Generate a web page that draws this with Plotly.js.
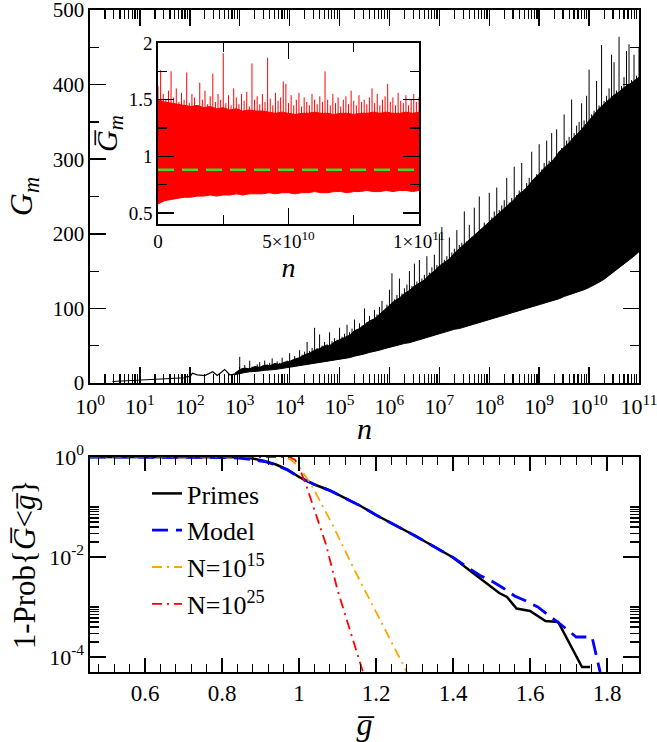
<!DOCTYPE html>
<html><head><meta charset="utf-8">
<script src="https://cdn.plot.ly/plotly-3.0.1.min.js"></script>
<style>html,body{margin:0;padding:0;background:#fff}</style>
</head><body><div id="chart" style="width:657px;height:742px"></div>
<script>
// ---------- Top panel: G_m vs n (log10 n exponents) ----------
const sparseLogN = [0.45, 0.7, 1.0, 1.3, 1.6, 1.9, 1.95, 2.0, 2.05, 2.15, 2.3, 2.46, 2.55, 2.7, 2.8, 2.9];
const sparseG    = [2, 3, 4, 5, 6, 7, 9, 8, 13, 11, 10, 15, 10, 18, 11, 12];

const bandLogN = [2.9,3.0,3.1,3.2,3.3,3.4,3.5,3.6,3.7,3.8,3.9,4.0,4.1,4.2,4.3,4.4,4.5,4.6,4.7,4.8,4.9,5.0,5.1,5.2,5.3,5.4,5.5,5.6,5.7,5.8,5.9,6.0,6.1,6.2,6.3,6.4,6.5,6.6,6.7,6.8,6.9,7.0,7.1,7.2,7.3,7.4,7.5,7.6,7.7,7.8,7.9,8.0,8.1,8.2,8.3,8.4,8.5,8.6,8.7,8.8,8.9,9.0,9.1,9.2,9.3,9.4,9.5,9.6,9.7,9.8,9.9,10.0,10.1,10.2,10.3,10.4,10.5,10.6,10.7,10.8,10.9,11.0];
const bandLow  = [11,13,14,15,15,16,17,17,18,19,20,21,22,23,24,25,26,27,28,29,30,31,33,34,36,37,39,41,42,44,46,48,50,51,53,54,56,58,60,62,64,66,68,70,72,73,75,77,79,81,83,85,87,89,91,93,95,97,99,101,103,105,107,109,111,113,116,118,120,123,125,128,131,135,139,144,149,154,159,164,170,176];
const bandHigh = [13,18,20,19,22,21,24,23,26,25,28,29,32,34,38,40,44,46,50,50,55,58,62,64,70,73,78,83,86,92,97,104,110,114,120,124,130,134,138,145,150,157,162,166,174,180,185,192,197,204,210,216,222,227,234,240,246,254,258,266,274,280,288,294,300,310,316,322,330,336,344,352,360,368,374,380,386,390,396,400,405,410];
// needle maxima every 0.05 decade from 10^3 to 10^11
const needleLogN0 = 3.0, needleStep = 0.05;
const needleG = [
 35,20,24,19,30,22,21,25,28,23,
 30,25,27,33,26,29,27,34,28,30,
 40,31,36,33,44,38,42,55,43,47,
 74,47,65,50,55,52,68,56,60,58,
 74,62,66,78,68,73,85,72,80,77,
 100,82,90,85,98,92,102,110,96,105,
 125,147,112,118,140,120,127,132,150,130,
 160,136,165,140,145,170,148,155,172,158,
 200,209,165,170,195,175,180,205,185,188,
 230,190,212,196,235,200,250,205,215,212,
 255,222,230,262,232,238,245,275,242,248,
 290,252,258,295,260,268,275,310,272,280,
 320,286,295,325,298,335,302,340,310,315,
 360,325,330,380,335,345,350,375,352,385,
 420,360,365,405,372,453,378,385,395,440,
 430,392,464,398,410,445,454,406,440,412,
 449];

// ---------- Inset: normalised G_m vs n (linear) ----------
const insetN = [0,2.5e9,5e9,7.5e9,1e10,1.25e10,1.5e10,1.75e10,2e10,2.25e10,2.5e10,2.75e10,3e10,3.25e10,3.5e10,3.75e10,4e10,4.25e10,4.5e10,4.75e10,5e10,5.25e10,5.5e10,5.75e10,6e10,6.25e10,6.5e10,6.75e10,7e10,7.25e10,7.5e10,7.75e10,8e10,8.25e10,8.5e10,8.75e10,9e10,9.25e10,9.5e10,9.75e10,1e11];
const insetLow  = [0.58,0.61,0.62,0.63,0.64,0.64,0.65,0.65,0.66,0.65,0.66,0.66,0.67,0.66,0.67,0.67,0.67,0.68,0.67,0.68,0.68,0.67,0.68,0.68,0.69,0.68,0.68,0.69,0.69,0.68,0.69,0.69,0.70,0.69,0.69,0.70,0.69,0.70,0.70,0.69,0.70];
const insetHigh = [1.50,1.48,1.47,1.46,1.45,1.44,1.45,1.43,1.44,1.42,1.43,1.41,1.42,1.40,1.41,1.40,1.40,1.39,1.38,1.39,1.38,1.37,1.38,1.38,1.39,1.38,1.38,1.37,1.38,1.38,1.37,1.38,1.38,1.39,1.38,1.39,1.38,1.38,1.39,1.38,1.39];
// needle maxima every 1e9
const insetNeedleStep = 1e9;
const insetNeedle = [
 1.62,1.76,1.55,1.50,1.58,1.75,1.52,1.60,1.48,1.56,
 1.50,1.74,1.47,1.55,1.52,1.45,1.65,1.50,1.58,1.46,
 1.53,1.73,1.48,1.55,1.50,1.91,1.47,1.54,1.45,1.60,
 1.52,1.46,1.55,1.49,1.57,1.44,1.82,1.50,1.53,1.46,
 1.55,1.48,1.87,1.51,1.45,1.56,1.49,1.52,1.66,1.64,
 1.47,1.54,1.45,1.50,1.56,1.44,1.52,1.48,1.45,1.55,
 1.50,1.46,1.53,1.48,1.75,1.50,1.45,1.55,1.47,1.52,
 1.44,1.50,1.53,1.46,1.58,1.49,1.45,1.54,1.48,1.50,
 1.46,1.52,1.60,1.47,1.55,1.45,1.50,1.53,1.64,1.48,
 1.52,1.45,1.56,1.49,1.47,1.54,1.45,1.50,1.55,1.48,
 1.52];
const insetMean = 0.883;

// ---------- Bottom panel: 1-Prob{G<g} ----------
const primesG    = [0.457,0.80,0.85,0.88,0.91,0.94,0.97,1.00,1.04,1.08,1.12,1.16,1.20,1.25,1.30,1.35,1.40,1.44,1.47,1.50,1.52,1.54,1.565,1.60,1.625,1.64,1.673,1.735,1.756];
const primesLogP = [0,0,-0.005,-0.03,-0.08,-0.15,-0.25,-0.40,-0.55,-0.67,-0.82,-0.98,-1.16,-1.36,-1.57,-1.79,-2.01,-2.25,-2.42,-2.60,-2.72,-2.80,-3.03,-3.08,-3.20,-3.28,-3.30,-4.20,-4.20];
const modelG     = [0.457,0.78,0.82,0.85,0.88,0.91,0.94,0.97,1.00,1.04,1.08,1.12,1.16,1.20,1.25,1.30,1.35,1.40,1.44,1.47,1.50,1.53,1.56,1.59,1.62,1.65,1.68,1.72,1.761,1.782];
const modelLogP  = [0,0,-0.01,-0.025,-0.05,-0.09,-0.16,-0.26,-0.40,-0.55,-0.67,-0.82,-0.98,-1.16,-1.36,-1.57,-1.79,-2.01,-2.22,-2.37,-2.48,-2.62,-2.78,-2.88,-3.00,-3.17,-3.35,-3.60,-3.60,-4.30];
const n15G       = [0.457,0.96,0.98,1.00,1.03,1.06,1.09,1.14,1.20,1.28];
const n15LogP    = [0,0,-0.06,-0.20,-0.53,-0.95,-1.40,-2.20,-3.10,-4.30];
const n25G       = [0.457,0.975,0.99,1.00,1.02,1.04,1.07,1.10,1.14,1.166];
const n25LogP    = [0,0,-0.06,-0.20,-0.60,-1.06,-1.75,-2.66,-3.66,-4.30];
const seriesNames = ['Primes','Model','N=10<sup>15</sup>','N=10<sup>25</sup>'];

// ---------- build ----------
const pow10 = v => Math.pow(10, v);
const serif = '"Liberation Serif", "Times New Roman", serif';
const traces = [];
const skip = {showlegend:false, hoverinfo:'skip'};

traces.push(Object.assign({x: sparseLogN.map(pow10), y: sparseG, mode:'lines', line:{color:'#000', width:1.2}, xaxis:'x', yaxis:'y'}, skip));
traces.push(Object.assign({x: bandLogN.map(pow10), y: bandLow, mode:'lines', line:{color:'#000', width:1}, xaxis:'x', yaxis:'y'}, skip));
traces.push(Object.assign({x: bandLogN.map(pow10), y: bandHigh, mode:'lines', fill:'tonexty', fillcolor:'#000', line:{color:'#000', width:1}, xaxis:'x', yaxis:'y'}, skip));
(function(){
  const sx = [], sy = [];
  needleG.forEach((g,i)=>{
    const e = needleLogN0 + i*needleStep;
    let j = 0; while (j < bandLogN.length-1 && bandLogN[j+1] <= e + 1e-9) j++;
    const base = bandLow[Math.min(j+1, bandLow.length-1)];
    sx.push(pow10(e), pow10(e), null); sy.push(base, g, null);
  });
  traces.push(Object.assign({x: sx, y: sy, mode:'lines', line:{color:'#000', width:1}, xaxis:'x', yaxis:'y'}, skip));
})();

traces.push(Object.assign({x: insetN, y: insetLow, mode:'lines', line:{color:'#ff0000', width:1}, xaxis:'x3', yaxis:'y3'}, skip));
traces.push(Object.assign({x: insetN, y: insetHigh, mode:'lines', fill:'tonexty', fillcolor:'#ff0000', line:{color:'#ff0000', width:1}, xaxis:'x3', yaxis:'y3'}, skip));
(function(){
  const sx = [], sy = [];
  insetNeedle.forEach((g,i)=>{ const n = i*insetNeedleStep; sx.push(n, n, null); sy.push(insetMean, g, null); });
  traces.push(Object.assign({x: sx, y: sy, mode:'lines', line:{color:'#ff0000', width:1}, xaxis:'x3', yaxis:'y3'}, skip));
})();
traces.push(Object.assign({x: [insetN[0], insetN[insetN.length-1]], y: [insetMean, insetMean], mode:'lines', line:{color:'#3cdc1e', width:2.5, dash:'16px,8px'}, xaxis:'x3', yaxis:'y3'}, skip));

traces.push({x: primesG, y: primesLogP.map(pow10), name:seriesNames[0], mode:'lines', line:{color:'#000', width:2.5}, xaxis:'x2', yaxis:'y2'});
traces.push({x: modelG, y: modelLogP.map(pow10), name:seriesNames[1], mode:'lines', line:{color:'#0000ff', width:2.8, dash:'16px,8px'}, xaxis:'x2', yaxis:'y2'});
traces.push({x: n15G, y: n15LogP.map(pow10), name:seriesNames[2], mode:'lines', line:{color:'#ffa500', width:1.8, dash:'10px,5px,2px,5px'}, xaxis:'x2', yaxis:'y2'});
traces.push({x: n25G, y: n25LogP.map(pow10), name:seriesNames[3], mode:'lines', line:{color:'#ff0000', width:1.8, dash:'10px,5px,2px,5px'}, xaxis:'x2', yaxis:'y2'});

// tick helpers
const decades = [], decText = [], decMinor = [];
for (let k=0;k<=11;k++){ decades.push(Math.pow(10,k)); decText.push('10<sup>'+k+'</sup>'); if (k<11) for (let m=2;m<=9;m++) decMinor.push(m*Math.pow(10,k)); }
const logYMinor = [];
[-4,-2].forEach(k=>{ for (let m=2;m<=10;m++) logYMinor.push(m*Math.pow(10,k)); });
const gMinor = []; for (let v=0.48; v<1.88; v+=0.04) gMinor.push(+v.toFixed(2));

const W = 657, H = 742;
const px = (a,b)=>[a/W, b/W];
const py = (top,bot)=>[1-bot/H, 1-top/H];
const minorBase = {tickmode:'array', ticks:'inside', tickcolor:'#000', tickwidth:1.2};
const tf = s => ({family:serif, size:s, color:'#000'});
const axBase = {showline:true, linecolor:'#000', linewidth:1.6, mirror:'allticks', ticks:'inside', tickcolor:'#000', tickwidth:1.5, showgrid:false, zeroline:false, ticklabeloverflow:'allow', tickfont:tf(21)};

const layout = {
  width: W, height: H, margin:{l:0,r:0,t:0,b:0}, paper_bgcolor:'#fff', plot_bgcolor:'rgba(0,0,0,0)',
  font:{family:serif, color:'#000'},
  showlegend: true,
  legend:{x:147/W, y:1-470/H, xanchor:'left', yanchor:'top', traceorder:'normal', bgcolor:'rgba(0,0,0,0)', font:tf(26), tracegroupgap:0},
  xaxis: Object.assign({}, axBase, {type:'log', domain:px(90,639), range:[0,11], tickmode:'array', tickvals:decades, ticktext:decText, ticklen:16, tickfont:tf(22),
    minor:Object.assign({tickvals:decMinor, ticklen:9}, minorBase), ticklabelstandoff:3,
    title:{text:'<i>n</i>', font:tf(30), standoff:0}, anchor:'y'}),
  yaxis: Object.assign({}, axBase, {domain:py(10,383), range:[0,500], tickmode:'array', tickvals:[0,100,200,300,400,500], ticklen:16, tickfont:tf(21),
    minor:Object.assign({tickvals:[50,150,250,350,450], ticklen:9}, minorBase),
    title:{text:'<i>G</i><sub><i>m</i></sub>', font:tf(32), standoff:10}, anchor:'x'}),
  xaxis3: Object.assign({}, axBase, {domain:px(158,419), range:[0,1e11], tickmode:'array', tickvals:[0,5e10,1e11], ticktext:['0','5×10<sup>10</sup>','1×10<sup>11</sup>'], ticklen:16, tickfont:tf(19),
    minor:Object.assign({tickvals:[2.5e10,7.5e10], ticklen:9}, minorBase),
    title:{text:'<i>n</i>', font:tf(28), standoff:0}, anchor:'y3'}),
  yaxis3: Object.assign({}, axBase, {domain:py(43,224), range:[0.404,2], tickmode:'array', tickvals:[0.5,1,1.5,2], ticktext:['0.5','1','1.5','2'], ticklen:16, tickfont:tf(19),
    minor:Object.assign({tickvals:[0.75,1.25,1.75], ticklen:9}, minorBase),
    title:{text:'<i>G\u0305</i><sub><i>m</i></sub>', font:tf(30), standoff:2}, anchor:'x3'}),
  xaxis2: Object.assign({}, axBase, {domain:px(90,639), range:[0.457,1.883], tickmode:'array', tickvals:[0.6,0.8,1,1.2,1.4,1.6,1.8], ticktext:['0.6','0.8','1','1.2','1.4','1.6','1.8'], ticklen:14, tickfont:tf(23),
    minor:Object.assign({tickvals:gMinor, ticklen:8}, minorBase),
    title:{text:'<i>g\u0305</i>', font:tf(32), standoff:2}, anchor:'y2'}),
  yaxis2: Object.assign({}, axBase, {type:'log', domain:py(457,672), range:[-4.3,0], tickmode:'array', tickvals:[1,0.01,0.0001], ticktext:['10<sup>0</sup>','10<sup>-2</sup>','10<sup>-4</sup>'], ticklen:16, tickfont:tf(22),
    minor:Object.assign({tickvals:logYMinor, ticklen:9}, minorBase),
    title:{text:'1-Prob{<i>G\u0305</i>&lt;<i>g\u0305</i>}', font:tf(31), standoff:4}, anchor:'x2'})
};

Plotly.newPlot('chart', traces, layout, {staticPlot:true, displayModeBar:false});
</script></body></html>
